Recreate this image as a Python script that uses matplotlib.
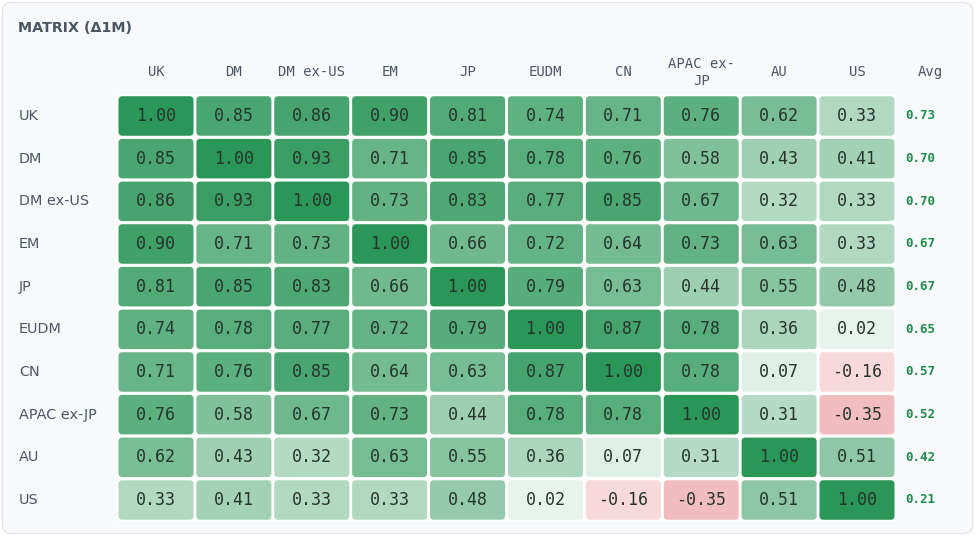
import numpy as np
import matplotlib.pyplot as plt
from matplotlib.patches import FancyBboxPatch

labels = ["UK", "DM", "DM ex-US", "EM", "JP", "EUDM", "CN", "APAC ex-JP", "AU", "US"]
col_labels = ["UK", "DM", "DM ex-US", "EM", "JP", "EUDM", "CN", "APAC ex-\nJP", "AU", "US"]

corr = np.array([
    [1.00, 0.85, 0.86, 0.90, 0.81, 0.74, 0.71, 0.76, 0.62, 0.33],
    [0.85, 1.00, 0.93, 0.71, 0.85, 0.78, 0.76, 0.58, 0.43, 0.41],
    [0.86, 0.93, 1.00, 0.73, 0.83, 0.77, 0.85, 0.67, 0.32, 0.33],
    [0.90, 0.71, 0.73, 1.00, 0.66, 0.72, 0.64, 0.73, 0.63, 0.33],
    [0.81, 0.85, 0.83, 0.66, 1.00, 0.79, 0.63, 0.44, 0.55, 0.48],
    [0.74, 0.78, 0.77, 0.72, 0.79, 1.00, 0.87, 0.78, 0.36, 0.02],
    [0.71, 0.76, 0.85, 0.64, 0.63, 0.87, 1.00, 0.78, 0.07, -0.16],
    [0.76, 0.58, 0.67, 0.73, 0.44, 0.78, 0.78, 1.00, 0.31, -0.35],
    [0.62, 0.43, 0.32, 0.63, 0.55, 0.36, 0.07, 0.31, 1.00, 0.51],
    [0.33, 0.41, 0.33, 0.33, 0.48, 0.02, -0.16, -0.35, 0.51, 1.00],
])
avg = [0.73, 0.70, 0.70, 0.67, 0.67, 0.65, 0.57, 0.52, 0.42, 0.21]

green = np.array([42, 150, 88]) / 255
red = np.array([222, 82, 92]) / 255


def cell_color(v):
    a = 0.1 + 0.9 * abs(v) ** 1.1
    base = green if v >= 0 else red
    return tuple(1 - a * (1 - base))


W, H = 975, 536
fig = plt.figure(figsize=(W / 100, H / 100), dpi=100, facecolor="white")

# card background
card = FancyBboxPatch((2.5 / W, 2.5 / H), (W - 5) / W, (H - 5) / H,
                      boxstyle="round,pad=0,rounding_size=0.009",
                      transform=fig.transFigure, facecolor="#f8f9fa",
                      edgecolor="#e3e5e8", linewidth=1, mutation_aspect=W / H,
                      zorder=-5)
fig.patches.append(card)

fig.text(18 / W, 1 - 28 / H, "MATRIX (Δ1M)", fontsize=10.3, fontweight="bold",
         color="#4b5563", va="center", ha="left")

ax = fig.add_axes([117.05 / W, 1 - 521.33 / H, 778.9 / W, 426.67 / H])
ax.set_xlim(-0.5, 9.5)
ax.set_ylim(9.5, -0.5)
ax.axis("off")
ax.add_patch(plt.Rectangle((-0.5, -0.5), 10, 10, facecolor="white",
                           edgecolor="none", zorder=0))

n = len(labels)
cw, ch = 0.963, 0.926
aspect = 77.9 / 42.67
for i in range(n):
    for j in range(n):
        v = corr[i, j]
        box = FancyBboxPatch((j - cw / 2, i - ch / 2), cw, ch,
                             boxstyle="round,pad=0,rounding_size=0.05",
                             mutation_aspect=aspect,
                             facecolor=cell_color(v), edgecolor="none", zorder=1)
        ax.add_patch(box)
        ax.text(j, i, f"{v:.2f}", ha="center", va="center", fontsize=12,
                family="DejaVu Sans Mono", color="#26342d", zorder=2)

for j, lab in enumerate(col_labels):
    ax.text(j, -1.02, lab, ha="center", va="center", fontsize=10,
            family="DejaVu Sans Mono", color="#4b5563", linespacing=1.25,
            clip_on=False)
ax.text(9.94, -1.02, "Avg", ha="center", va="center", fontsize=10,
        family="DejaVu Sans Mono", color="#4b5563", clip_on=False)

for i, lab in enumerate(labels):
    ax.text(-1.759, i, lab, ha="left", va="center", fontsize=10.4,
            color="#4b5563", clip_on=False)
    ax.text(9.615, i, f"{avg[i]:.2f}", ha="left", va="center", fontsize=9,
            fontweight="bold", family="DejaVu Sans Mono", color="#1f8a4c",
            clip_on=False)

fig.savefig("out.png", dpi=100, facecolor="white")
